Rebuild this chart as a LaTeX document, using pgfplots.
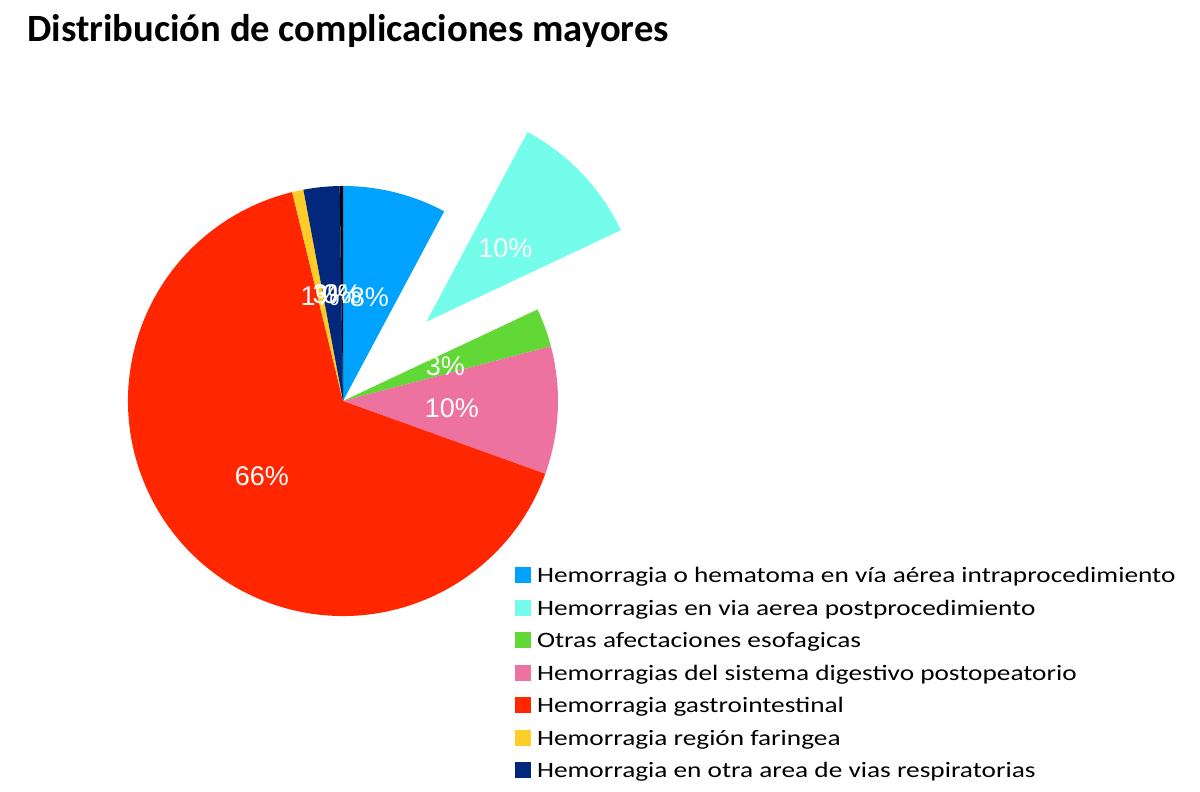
\documentclass[border=0pt]{standalone}
\usepackage{fontspec}
\setmainfont{Carlito}
\newfontfamily\helv{Liberation Sans}
\newfontfamily\legfont[FakeStretch=1.24]{Carlito}
\usepackage{pgfplots}
\usepackage{pgfplotstable}
\pgfplotsset{compat=1.18}
\usetikzlibrary{calc}

\definecolor{cBlue}{RGB}{0,162,255}
\definecolor{cCyan}{RGB}{115,253,234}
\definecolor{cGreen}{RGB}{97,216,54}
\definecolor{cPink}{RGB}{238,114,159}
\definecolor{cRed}{RGB}{255,38,0}
\definecolor{cYellow}{RGB}{255,205,40}
\definecolor{cNavy}{RGB}{1,40,125}
\definecolor{cBlack}{RGB}{0,0,0}

% slice share (%), colour, explode offset (pt), printed label
\pgfplotstableread{
pct   col     ex    lab
7.8   cBlue   0     8
10.2  cCyan   57.5  10
2.9   cGreen  0     3
9.6   cPink   0     10
65.7  cRed    0     66
0.85  cYellow 0     1
2.7   cNavy   0     3
0.25  cBlack  0     0
}\slices

\begin{document}
\begin{tikzpicture}
\begin{axis}[
    width=600pt, height=396pt,
    scale only axis,
    hide axis,
    clip=false,
    xmin=0, xmax=1200, ymin=0, ymax=792,
    legend style={
        at={(axis description cs:0.429,0.2873)}, anchor=north west,
        draw=none, fill=none, font=\legfont\fontsize{11}{13}\selectfont,
        row sep=4.25pt, inner sep=0pt,
        cells={anchor=base west},
        nodes={text height=9pt, text depth=3pt, inner ysep=0pt},
        /tikz/every odd column/.append style={column sep=1pt},
    },
    legend image code/.code={
        \fill[#1] (0pt,0pt) rectangle (7.5pt,7.5pt);
    },
]
\path (axis cs:0,0) rectangle (axis cs:1200,792);

\pgfplotsextra{
  \gdef\angA{90}
  \foreach \i in {0,...,7}{
    \pgfplotstablegetelem{\i}{pct}\of{\slices}\let\pct\pgfplotsretval
    \pgfplotstablegetelem{\i}{col}\of{\slices}\let\col\pgfplotsretval
    \pgfplotstablegetelem{\i}{ex}\of{\slices}\let\ex\pgfplotsretval
    \pgfmathsetmacro{\angB}{\angA-3.6*\pct}
    \pgfmathsetmacro{\mid}{(\angA+\angB)/2}
    \fill[\col] ($(axis cs:343,391)+(\mid:\ex pt)$) -- +(\angA:107.5pt)
        arc[start angle=\angA, end angle=\angB, radius=107.5pt] -- cycle;
    \xdef\angA{\angB}
  }
  \gdef\angA{90}
  \foreach \i in {0,...,7}{
    \pgfplotstablegetelem{\i}{pct}\of{\slices}\let\pct\pgfplotsretval
    \pgfplotstablegetelem{\i}{ex}\of{\slices}\let\ex\pgfplotsretval
    \pgfplotstablegetelem{\i}{lab}\of{\slices}\let\lab\pgfplotsretval
    \pgfmathsetmacro{\angB}{\angA-3.6*\pct}
    \pgfmathsetmacro{\mid}{(\angA+\angB)/2}
    \pgfmathsetmacro{\lr}{\ex+54.5}
    \node[text=white, font=\helv\fontsize{13.5}{14}\selectfont, inner sep=0pt]
        at ($(axis cs:343,389)+(\mid:\lr pt)$) {\lab\%};
    \xdef\angA{\angB}
  }
}

\node[anchor=west, font=\bfseries\fontsize{19.3}{22}\selectfont, inner sep=0pt]
    at (axis cs:27,760.5) {Distribución de complicaciones mayores};

\addlegendimage{cBlue}
\addlegendentry{Hemorragia o hematoma en vía aérea intraprocedimiento}
\addlegendimage{cCyan}
\addlegendentry{Hemorragias en via aerea postprocedimiento}
\addlegendimage{cGreen}
\addlegendentry{Otras afectaciones esofagicas}
\addlegendimage{cPink}
\addlegendentry{Hemorragias del sistema digestivo postopeatorio}
\addlegendimage{cRed}
\addlegendentry{Hemorragia gastrointestinal}
\addlegendimage{cYellow}
\addlegendentry{Hemorragia región faringea}
\addlegendimage{cNavy}
\addlegendentry{Hemorragia en otra area de vias respiratorias}
\end{axis}
\end{tikzpicture}
\end{document}
